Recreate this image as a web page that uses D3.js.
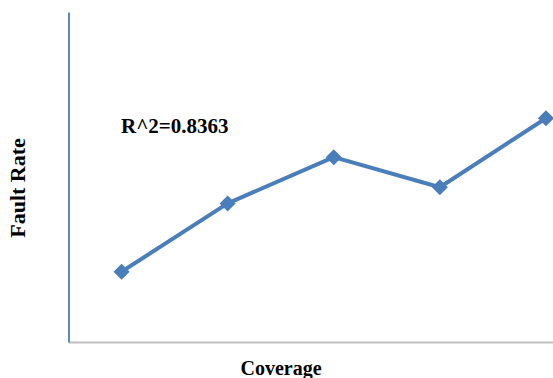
<!DOCTYPE html>
<html>
<head>
<meta charset="utf-8">
<script src="https://cdn.jsdelivr.net/npm/d3@7"></script>
<style>
html,body{margin:0;padding:0;background:#fff;}
svg{display:block;}
</style>
</head>
<body>
<svg id="chart" width="553" height="378"></svg>
<script>
const categories = ["1", "2", "3", "4", "5"];
const faultRate = [0.213, 0.420, 0.560, 0.469, 0.678];
const yDomain = [0, 1];
const annotation = "R^2=0.8363";
const xTitle = "Coverage";
const yTitle = "Fault Rate";

(function () {
const svg = d3.select("#chart");
const mLeft = 68.5, mRight = 599, mTop = 12, mBottom = 342;

const x = d3.scaleBand().domain(categories).range([mLeft, mRight]).paddingInner(0).paddingOuter(0);
const y = d3.scaleLinear().domain(yDomain).range([mBottom, mTop]);

const gx = svg.append("g").attr("transform", `translate(0,${mBottom})`)
  .call(d3.axisBottom(x).tickValues([]).tickSizeOuter(0));
gx.select(".domain").attr("stroke", "#bfbfbf").attr("stroke-width", 2);

const gy = svg.append("g").attr("transform", `translate(${mLeft},0)`)
  .call(d3.axisLeft(y).tickValues([]).tickSizeOuter(0));
gy.select(".domain").attr("stroke", "#4a7ebb").attr("stroke-width", 1.8);

const cx = d => x(d) + x.bandwidth() / 2;

const line = d3.line().x((d, i) => cx(categories[i])).y(d => y(d));
svg.append("path").datum(faultRate)
  .attr("d", line).attr("fill", "none")
  .attr("stroke", "#4a7ebb").attr("stroke-width", 4).attr("stroke-linejoin", "round");

const sym = d3.symbol().type(d3.symbolSquare).size(128);
svg.selectAll(".pt").data(faultRate).enter().append("path")
  .attr("class", "pt")
  .attr("d", sym)
  .attr("transform", (d, i) => `translate(${cx(categories[i])},${y(d)}) rotate(45)`)
  .attr("fill", "#4a7ebb");

const font = "'Liberation Serif','Times New Roman',serif";
svg.append("text").attr("x", 121).attr("y", 133)
  .attr("font-family", font).attr("font-weight", "bold").attr("font-size", 21)
  .attr("fill", "#000").text(annotation);

svg.append("text").attr("x", 281).attr("y", 375).attr("text-anchor", "middle")
  .attr("font-family", font).attr("font-weight", "bold").attr("font-size", 20)
  .attr("fill", "#000").text(xTitle);

svg.append("text").attr("transform", "translate(25,188) rotate(-90)").attr("text-anchor", "middle")
  .attr("font-family", font).attr("font-weight", "bold").attr("font-size", 22)
  .attr("fill", "#000").text(yTitle);
})();
</script>
</body>
</html>
